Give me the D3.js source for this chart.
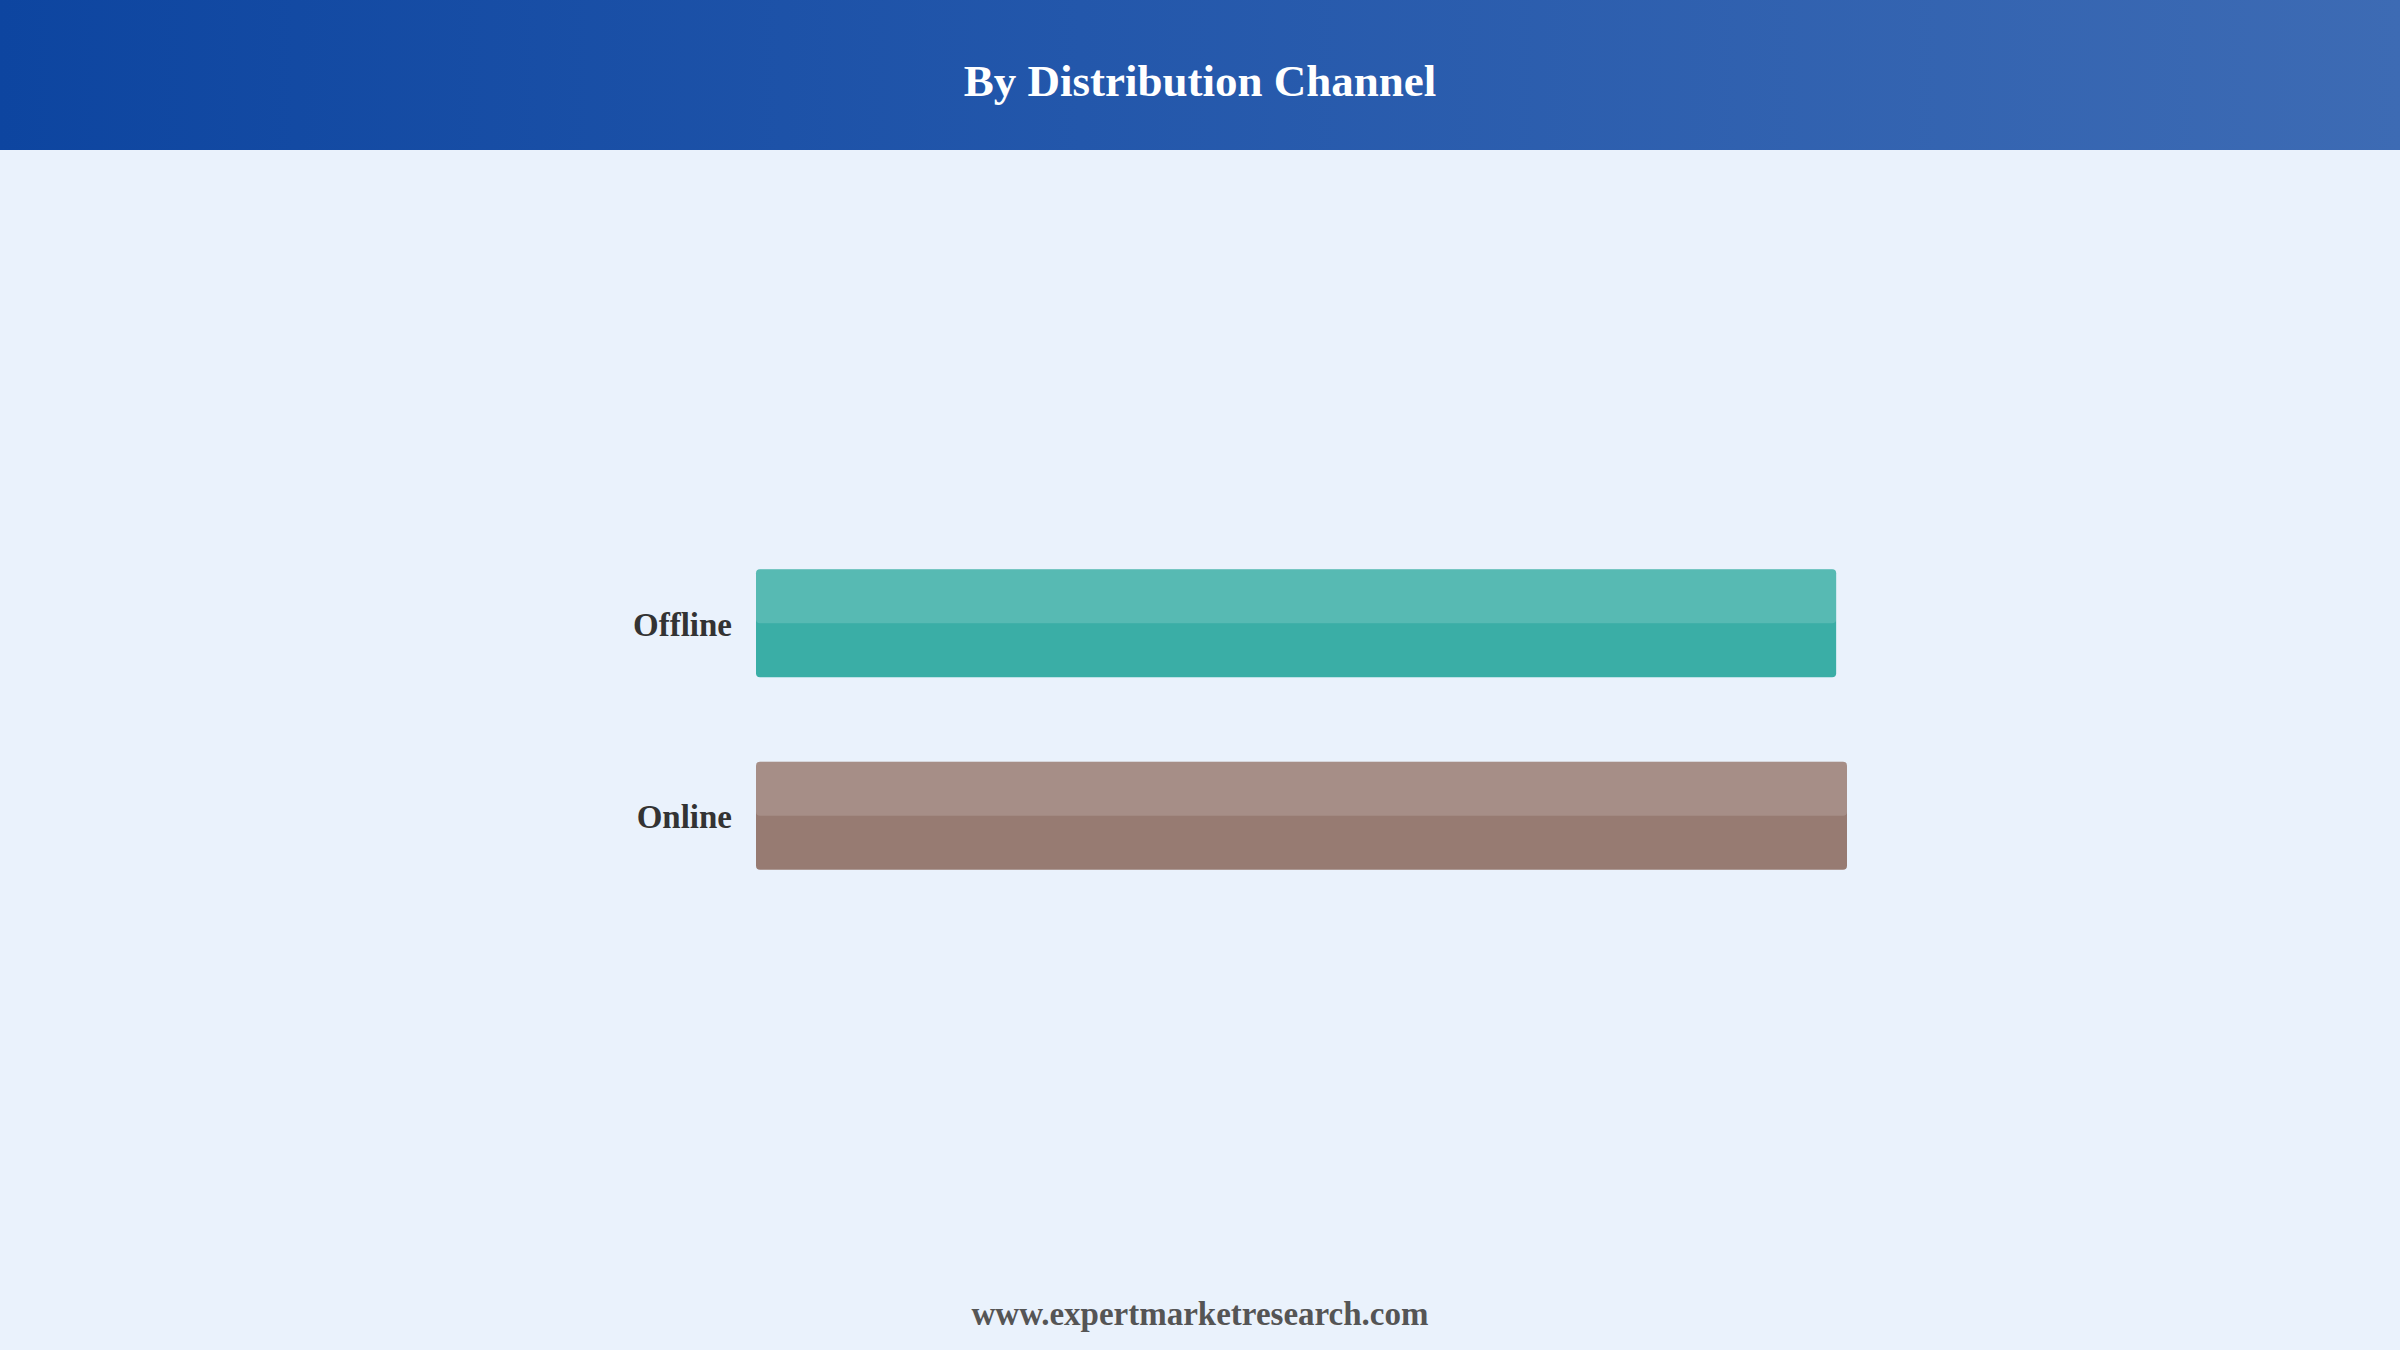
<!DOCTYPE html>
<html>
<head>
<meta charset="utf-8">
<script src="https://cdn.jsdelivr.net/npm/d3@7"></script>
<style>
    html, body { margin: 0; padding: 0; background: #eaf2fc; }
    svg { display: block; }
</style>
</head>
<body>
<div id="chart"></div>
<script>
// data (share, %)
var categories = ['Offline', 'Online']
var values = [49.8, 50.3]
var barColors = ['#3aaea6', '#977b72']

var W = 2400, H = 1350
var svg = d3.select('#chart').append('svg')
    .attr('width', W)
    .attr('height', H)

var defs = svg.append('defs')
var grad = defs.append('linearGradient')
    .attr('id', 'hdr')
    .attr('x1', '0%').attr('x2', '100%')
    .attr('y1', '0%').attr('y2', '0%')
grad.append('stop').attr('offset', '0%').attr('stop-color', '#0d45a0')
grad.append('stop').attr('offset', '45%').attr('stop-color', '#2357ab')
grad.append('stop').attr('offset', '100%').attr('stop-color', '#3d6bb4')

svg.append('rect')
    .attr('width', W).attr('height', H)
    .attr('fill', '#eaf2fc')

// header band
svg.append('rect')
    .attr('width', W).attr('height', 150)
    .attr('fill', 'url(#hdr)')

svg.append('text')
    .attr('x', W / 2)
    .attr('y', 96)
    .attr('text-anchor', 'middle')
    .attr('font-family', '"Liberation Serif", "Times New Roman", serif')
    .attr('font-weight', 'bold')
    .attr('font-size', 45)
    .attr('fill', '#ffffff')
    .text('By Distribution Channel')

var x = d3.scaleLinear()
    .domain([0, d3.max(values)])
    .range([756, 1847])

var y = d3.scaleBand()
    .domain(categories)
    .range([473, 966])
    .paddingInner(0.439)
    .paddingOuter(0.5)

var data = categories.map((c, i) => ({ cat: c, val: values[i], col: barColors[i] }))

var g = svg.append('g')

g.selectAll('rect.bar')
    .data(data)
    .enter().append('rect')
    .attr('class', 'bar')
    .attr('x', x(0))
    .attr('y', d => y(d.cat))
    .attr('width', d => x(d.val) - x(0))
    .attr('height', y.bandwidth())
    .attr('rx', 4)
    .attr('fill', d => d.col)

// lighter upper half of each bar
g.selectAll('rect.shine')
    .data(data)
    .enter().append('rect')
    .attr('class', 'shine')
    .attr('x', x(0))
    .attr('y', d => y(d.cat))
    .attr('width', d => x(d.val) - x(0))
    .attr('height', y.bandwidth() / 2)
    .attr('rx', 4)
    .attr('fill', '#ffffff')
    .attr('fill-opacity', 0.15)

// category labels, axis without line/ticks
var yAxis = d3.axisLeft(y).tickSize(0).tickPadding(24)
var ax = svg.append('g')
    .attr('transform', 'translate(' + x(0) + ',0)')
    .call(yAxis)
ax.select('.domain').remove()
ax.selectAll('text')
    .attr('font-family', '"Liberation Serif", "Times New Roman", serif')
    .attr('font-weight', 'bold')
    .attr('font-size', 33)
    .attr('fill', '#333333')
    .attr('dy', '0.38em')

svg.append('text')
    .attr('x', W / 2)
    .attr('y', 1325)
    .attr('text-anchor', 'middle')
    .attr('font-family', '"Liberation Serif", "Times New Roman", serif')
    .attr('font-weight', 'bold')
    .attr('font-size', 33)
    .attr('fill', '#555555')
    .text('www.expertmarketresearch.com')
</script>
</body>
</html>
